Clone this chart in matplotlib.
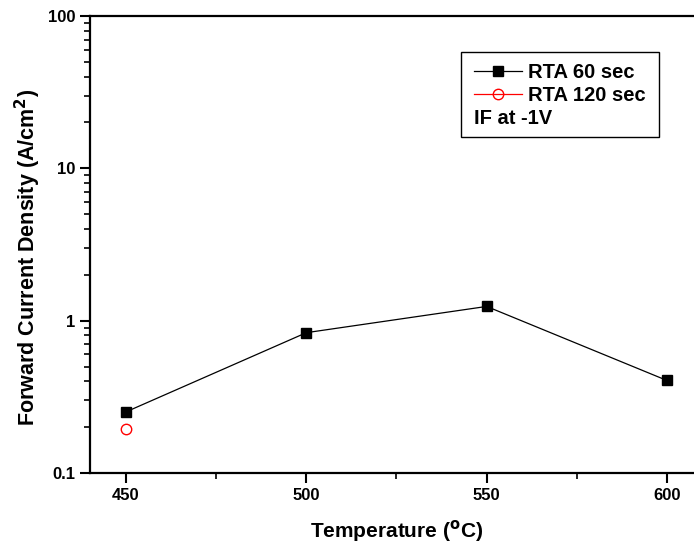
import numpy as np
import matplotlib
matplotlib.use('Agg')
import matplotlib.pyplot as plt
from matplotlib.patches import Rectangle
from matplotlib.ticker import FixedLocator, NullFormatter

plt.rcParams['font.family'] = ['Liberation Sans', 'DejaVu Sans']
plt.rcParams['font.weight'] = 'bold'

# 数据
temp_60 = [450, 500, 550, 600]
jf_60 = [0.252, 0.834, 1.24, 0.405]
temp_120 = [450]
jf_120 = [0.195]
x_ticks = [450, 500, 550, 600]
x_minor = [475, 525, 575]
y_ticks = [0.1, 1, 10, 100]
y_tick_labels = ['0.1', '1', '10', '100']

fig = plt.figure(figsize=(6.94, 5.49), dpi=100)
W, H = 694, 549
ax = fig.add_axes([90 / W, 76 / H, (703 - 90) / W, (473 - 16) / H])

ax.plot(temp_60, jf_60, color='black', lw=0.9, marker='s', ms=7.5,
        mfc='black', mec='black', label='RTA 60 sec')
ax.plot(temp_120, jf_120, color='red', lw=0.9, marker='o', ms=7.5,
        mfc='none', mec='red', mew=1.0, label='RTA 120 sec')

ax.set_yscale('log')
ax.set_ylim(0.1, 100)
ax.set_xlim(440, 610)
ax.set_yticks(y_ticks)
ax.set_yticklabels(y_tick_labels)
minor_y = [m * 10.0 ** e for e in range(-1, 2) for m in range(2, 10)]
ax.yaxis.set_minor_locator(FixedLocator(minor_y))
ax.yaxis.set_minor_formatter(NullFormatter())
ax.set_xticks(x_ticks)
ax.xaxis.set_minor_locator(FixedLocator(x_minor))

for s in ax.spines.values():
    s.set_linewidth(1.6)
ax.spines['right'].set_visible(False)
ax.tick_params(which='major', direction='out', length=7.5, width=1.5,
               labelsize=12, top=False, right=False, pad=3)
ax.tick_params(which='minor', direction='out', length=4, width=1.2,
               top=False, right=False)
for lab in ax.get_xticklabels() + ax.get_yticklabels():
    lab.set_fontweight('bold')

ax.set_xlabel('Temperature ($\\mathbf{^{o}}$C)', fontsize=15, fontweight='bold', labelpad=11)
ax.set_ylabel('Forward Current Density (A/cm$\\mathbf{^{2}}$)', fontsize=15.5,
              fontweight='bold')
ax.yaxis.set_label_coords((43 - 90) / 613, (473 - 257) / 457)

# 图例
leg = ax.legend(loc='upper left', bbox_to_anchor=(474 / W, (549 - 63) / H),
                bbox_transform=fig.transFigure, frameon=False, fontsize=14.5,
                handlelength=2.4, handletextpad=0.3, labelspacing=0.22,
                borderpad=0, borderaxespad=0)
for t in leg.get_texts():
    t.set_fontweight('bold')
fig.text(474 / W, (549 - 118) / H, 'IF at -1V', fontsize=14.5, fontweight='bold',
         va='center', ha='left')
fig.patches.append(Rectangle((461 / W, (549 - 137) / H), (659 - 461) / W, (137 - 52) / H,
                             transform=fig.transFigure, fill=False, ec='black', lw=1.0))

fig.savefig('out.png', dpi=100)
